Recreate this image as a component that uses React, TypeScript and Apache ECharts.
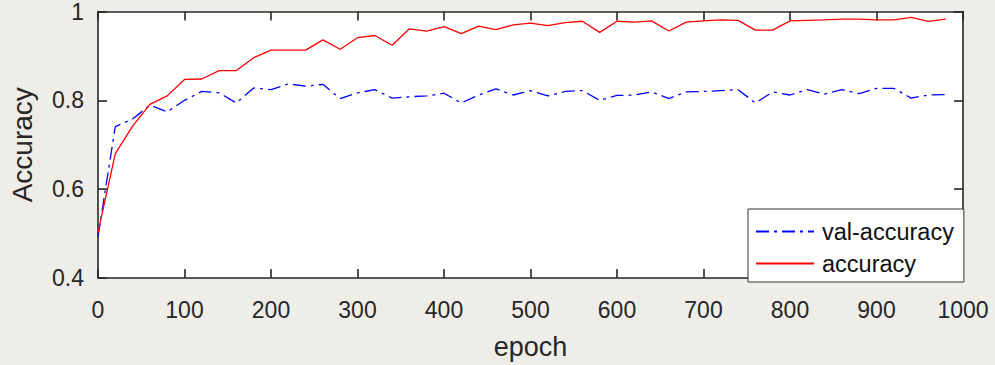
import React, { useEffect, useRef } from "react";
import * as echarts from "echarts";

const epochs = [
  0, 20, 40, 60, 80, 100, 120, 140, 160, 180, 200, 220, 240, 260, 280, 300, 320, 340, 360, 380,
  400, 420, 440, 460, 480, 500, 520, 540, 560, 580, 600, 620, 640, 660, 680, 700, 720, 740, 760, 780,
  800, 820, 840, 860, 880, 900, 920, 940, 960, 980,
];

const valAccuracy = [
  0.493, 0.741, 0.758, 0.789, 0.774, 0.8, 0.82, 0.817, 0.794, 0.828, 0.824, 0.837, 0.832, 0.836, 0.804, 0.817, 0.824, 0.805, 0.808, 0.81,
  0.816, 0.794, 0.812, 0.826, 0.812, 0.822, 0.81, 0.82, 0.822, 0.8, 0.811, 0.812, 0.819, 0.804, 0.819, 0.82, 0.822, 0.824, 0.794, 0.819,
  0.812, 0.824, 0.814, 0.824, 0.815, 0.827, 0.827, 0.805, 0.812, 0.813,
];

const accuracy = [
  0.502, 0.68, 0.742, 0.791, 0.81, 0.847, 0.848, 0.867, 0.867, 0.896, 0.913, 0.913, 0.913, 0.936, 0.915, 0.941, 0.946, 0.924, 0.961, 0.956,
  0.966, 0.95, 0.967, 0.959, 0.97, 0.974, 0.968, 0.975, 0.978, 0.953, 0.978, 0.976, 0.979, 0.956, 0.976, 0.979, 0.981, 0.98, 0.958, 0.958,
  0.979, 0.98, 0.981, 0.983, 0.983, 0.981, 0.981, 0.987, 0.978, 0.983,
];

const xTicks = { min: 0, max: 1000, interval: 100 };
const yTicks = { min: 0.4, max: 1, interval: 0.2 };

const AXIS_COLOR = "#262626";
const FONT = "Arial, 'Liberation Sans', Helvetica, sans-serif";

export default function App() {
  const ref = useRef<HTMLDivElement>(null);

  useEffect(() => {
    if (!ref.current) return;
    const chart = echarts.init(ref.current, undefined, { renderer: "svg" });

    const axisLine = { show: true, onZero: false, lineStyle: { color: AXIS_COLOR, width: 1.6 } };
    const axisTick = { show: true, inside: true, length: 9, lineStyle: { color: AXIS_COLOR, width: 1.6 } };

    chart.setOption({
      animation: false,
      backgroundColor: "#eeede8",
      textStyle: { fontFamily: FONT },
      grid: {
        left: 97,
        right: 32,
        top: 10,
        bottom: 85,
        show: true,
        backgroundColor: "#ffffff",
        borderWidth: 0,
      },
      legend: {
        orient: "vertical",
        left: 748,
        top: 209,
        backgroundColor: "#ffffff",
        borderColor: "#333333",
        borderWidth: 1,
        borderRadius: 0,
        padding: [10, 10, 6, 7],
        itemWidth: 58,
        itemHeight: 14,
        itemGap: 7,
        itemStyle: { opacity: 0 },
        textStyle: { fontSize: 23.5, color: "#111", fontFamily: FONT, lineHeight: 25, padding: [0, 0, 0, 3] },
        data: ["val-accuracy", "accuracy"],
      },
      xAxis: [
        {
          type: "value",
          ...xTicks,
          position: "bottom",
          axisLine,
          axisTick,
          splitLine: { show: false },
          axisLabel: {
            fontSize: 23,
            color: AXIS_COLOR,
            margin: 20,
            fontFamily: FONT,
            formatter: (v: number) => String(v),
          },
          name: "epoch",
          nameLocation: "middle",
          nameGap: 55,
          nameTextStyle: { fontSize: 27, color: AXIS_COLOR, fontFamily: FONT },
        },
        {
          type: "value",
          ...xTicks,
          position: "top",
          axisLine,
          axisTick,
          splitLine: { show: false },
          axisLabel: { show: false },
        },
      ],
      yAxis: [
        {
          type: "value",
          ...yTicks,
          position: "left",
          axisLine,
          axisTick,
          splitLine: { show: false },
          axisLabel: {
            fontSize: 23,
            color: AXIS_COLOR,
            margin: 14,
            fontFamily: FONT,
            formatter: (v: number) => (Math.abs(v - 1) < 1e-9 ? "1" : v.toFixed(1)),
          },
          name: "Accuracy",
          nameLocation: "middle",
          nameGap: 62,
          nameRotate: 90,
          nameTextStyle: { fontSize: 28, color: AXIS_COLOR, fontFamily: FONT },
        },
        {
          type: "value",
          ...yTicks,
          position: "right",
          axisLine,
          axisTick,
          splitLine: { show: false },
          axisLabel: { show: false },
        },
      ],
      series: [
        {
          name: "val-accuracy",
          type: "line",
          xAxisIndex: 0,
          yAxisIndex: 0,
          symbol: "none",
          data: epochs.map((e, i) => [e, valAccuracy[i]]),
          lineStyle: { color: "#0000ff", width: 1.3, type: [13, 5, 3, 5] },
          itemStyle: { color: "#0000ff" },
        },
        {
          name: "accuracy",
          type: "line",
          xAxisIndex: 0,
          yAxisIndex: 0,
          symbol: "none",
          data: epochs.map((e, i) => [e, accuracy[i]]),
          lineStyle: { color: "#ff0000", width: 1.3, type: "solid" },
          itemStyle: { color: "#ff0000" },
        },
      ],
    });

    return () => chart.dispose();
  }, []);

  return <div ref={ref} style={{ width: 995, height: 365, position: "fixed", left: 0, top: 0 }} />;
}
